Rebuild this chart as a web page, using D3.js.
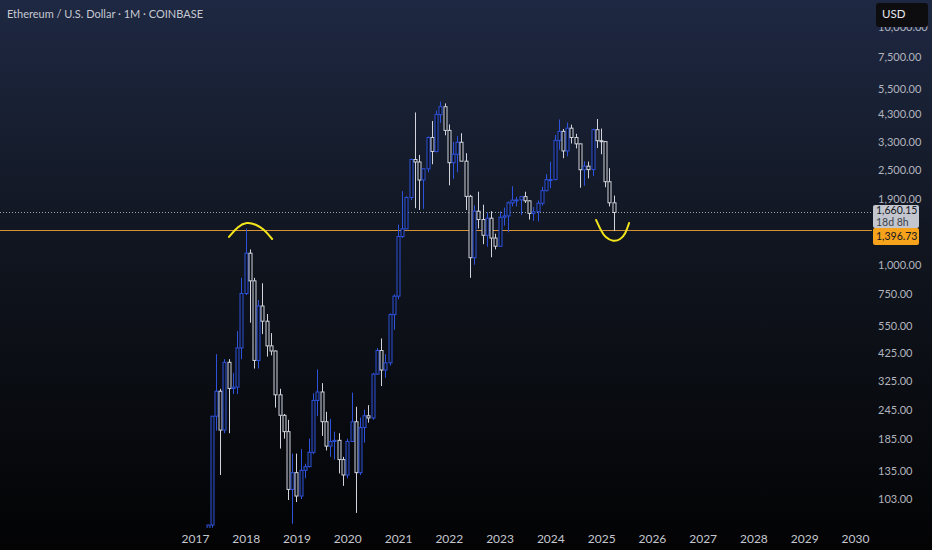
<!DOCTYPE html>
<html>
<head>
<meta charset="utf-8">
<script src="https://cdn.jsdelivr.net/npm/d3@7"></script>
<style>
  html, body { margin: 0; padding: 0; background: #000; }
  svg { display: block; }
</style>
</head>
<body>
<div id="chart"></div>
<script>
// monthly candles, Jan 2017 .. Apr 2025
const startYear = 2017;
const opens = [8.2,10.7,16,50,80,230,293,201,388,301,305,446,
  756,1118,855,395,670,578,455,433,283,232,198,113,
  133,106,136,141,162,268,291,218,172,180,182,151,
  130,180,218,133,206,231,226,346,435,360,386,616,
  737,1314,1416,1918,2775,2709,2274,2535,3434,3000,4290,4630,
  3680,2690,2920,3280,2730,1940,1070,1680,1550,1330,1570,1295,
  1196,1585,1605,1822,1870,1875,1935,1858,1645,1672,1815,2050,
  2282,2283,3340,3645,3015,3760,3435,3230,2513,2600,2515,3705,
  3330,3300,2237,1823];
const highs = [11.5,17,55,80,230,420,300,400,400,350,525,880,
  1420,1160,880,710,835,620,515,435,300,235,222,160,
  160,167,145,185,287,362,317,240,224,198,195,155,
  185,289,252,227,245,256,350,446,489,420,624,750,
  1475,2042,1944,2797,4380,2900,2550,3470,4030,4460,4870,4780,
  3900,3290,3480,3580,2950,1970,1780,2030,1790,1660,1680,1350,
  1680,1740,1850,2140,1930,1930,2030,1870,1750,1865,2130,2410,
  2715,3520,4090,3730,3975,3890,3560,3230,2730,2720,3740,4110,
  3745,3320,2550,1955];
const lows = [7.9,10.3,15.8,42,78,200,130,195,195,285,285,400,
  745,570,365,365,510,410,415,250,168,185,102,81,
  100,103,126,140,159,230,190,165,155,151,132,117,
  126,180,90,130,178,216,222,344,308,334,376,532,
  715,1295,1440,1871,1730,1700,1719,2450,2650,2970,3960,3510,
  2160,2300,2450,2780,1700,880,1000,1420,1220,1190,1075,1160,
  1190,1460,1370,1760,1760,1620,1820,1550,1530,1520,1775,2040,
  2100,2270,3050,2810,2860,3240,3090,2110,2150,2310,2360,3100,
  2920,2120,1760,1385];
const closes = [10.7,16,50,80,230,293,201,388,301,305,446,756,
  1118,855,395,670,578,455,433,283,232,198,113,133,
  106,136,141,162,268,291,218,172,180,182,151,130,
  180,218,133,206,231,226,346,435,360,386,616,737,
  1314,1416,1918,2775,2709,2274,2535,3434,3000,4290,4630,3680,
  2690,2920,3280,2730,1940,1070,1680,1550,1330,1570,1295,1196,
  1585,1605,1822,1870,1875,1935,1858,1645,1672,1815,2050,2282,
  2283,3340,3645,3015,3760,3435,3230,2513,2600,2515,3705,3330,
  3300,2237,1823,1660];

const tickYears = [2017,2018,2019,2020,2021,2022,2023,2024,2025,2026,2027,2028,2029,2030];
const priceTicks = [10000,7500,5500,4300,3300,2500,1900,1000,750,550,425,325,245,185,135,103];

const lastPrice = 1660.15;
const lastCountdown = "18d 8h";
const levelPrice = 1396.73;

// hand drawn arcs: [decimal year, price]
const arcTop = [[2017.67,1309],[2017.85,1455],[2018.02,1515],[2018.2,1480],[2018.36,1410],[2018.52,1283]];
const arcBottom = [[2024.90,1543],[2024.99,1400],[2025.08,1300],[2025.24,1250],[2025.38,1275],[2025.48,1350],[2025.55,1499]];

const W = 932, H = 550;
const PLOT_W = 872, PLOT_H = 528;
const FONT = "Lato, 'Noto Sans', sans-serif";

const candles = opens.map((o, i) => ({
  date: new Date(Date.UTC(startYear, i, 1)),
  open: o, high: highs[i], low: lows[i], close: closes[i]
}));

const x = d3.scaleUtc()
  .domain([new Date(Date.UTC(2017, 0, 1)), new Date(Date.UTC(2030, 0, 1))])
  .range([195, 855]);
const y = d3.scaleLog().domain([103, 7500]).range([499, 57]);

const yearToDate = t => {
  const yr = Math.floor(t);
  const a = Date.UTC(yr, 0, 1), b = Date.UTC(yr + 1, 0, 1);
  return new Date(a + (t - yr) * (b - a));
};

const svg = d3.select("#chart").append("svg")
  .attr("width", W).attr("height", H)
  .attr("font-family", FONT);

const defs = svg.append("defs");
const grad = defs.append("linearGradient").attr("id", "bg")
  .attr("x1", 0).attr("y1", 0).attr("x2", 0).attr("y2", 1);
grad.append("stop").attr("offset", "0%").attr("stop-color", "#1e2842");
grad.append("stop").attr("offset", "45%").attr("stop-color", "#10151f");
grad.append("stop").attr("offset", "100%").attr("stop-color", "#030304");
defs.append("clipPath").attr("id", "plot")
  .append("rect").attr("width", PLOT_W).attr("height", PLOT_H);

svg.append("rect").attr("width", W).attr("height", H).attr("fill", "url(#bg)");

const plot = svg.append("g").attr("clip-path", "url(#plot)");

// price lines
plot.append("line")
  .attr("x1", 0).attr("x2", PLOT_W + 2)
  .attr("y1", Math.round(y(lastPrice)) + 0.5).attr("y2", Math.round(y(lastPrice)) + 0.5)
  .attr("stroke", "#9ea3b0").attr("stroke-dasharray", "1,2");
plot.append("line")
  .attr("x1", 0).attr("x2", PLOT_W + 2)
  .attr("y1", Math.round(y(levelPrice)) + 0.5).attr("y2", Math.round(y(levelPrice)) + 0.5)
  .attr("stroke", "#d8923a").attr("stroke-width", 1);

const UP = "#2d52dc", DOWN = "#d1d4dc";
const colorOf = d => d.close >= d.open ? UP : DOWN;

const cg = plot.append("g");
cg.selectAll("line.wick").data(candles).join("line")
  .attr("class", "wick")
  .attr("x1", d => Math.round(x(d.date)) + 0.5)
  .attr("x2", d => Math.round(x(d.date)) + 0.5)
  .attr("y1", d => y(d.high)).attr("y2", d => y(d.low))
  .attr("stroke", colorOf).attr("stroke-width", 1);
cg.selectAll("rect.body").data(candles).join("rect")
  .attr("class", "body")
  .attr("x", d => Math.round(x(d.date)) - 1)
  .attr("width", 3)
  .attr("y", d => y(Math.max(d.open, d.close)))
  .attr("height", d => Math.max(1, Math.abs(y(d.open) - y(d.close))))
  .attr("fill", "#0c1019")
  .attr("stroke", colorOf).attr("stroke-width", 1);

// yellow annotations
const arcLine = d3.line()
  .x(d => x(yearToDate(d[0])))
  .y(d => y(d[1]))
  .curve(d3.curveBasis);
[arcTop, arcBottom].forEach(pts => {
  plot.append("path").attr("d", arcLine(pts))
    .attr("fill", "none").attr("stroke", "#f2e51c")
    .attr("stroke-width", 2).attr("stroke-linecap", "round");
});

// axes
const yAxis = svg.append("g")
  .attr("transform", "translate(878,0)")
  .call(d3.axisRight(y).tickValues(priceTicks).tickFormat(d3.format(",.2f")).tickSize(0).tickPadding(0));
yAxis.select(".domain").remove();
yAxis.selectAll("text").attr("fill", "#b2b5be").style("font-size", "11px").style("font-family", FONT);

const xAxis = svg.append("g")
  .attr("transform", "translate(0,534)")
  .call(d3.axisBottom(x).tickValues(tickYears.map(v => new Date(Date.UTC(v, 0, 1))))
    .tickFormat(d3.utcFormat("%Y")).tickSize(0).tickPadding(0));
xAxis.select(".domain").remove();
xAxis.selectAll("text").attr("fill", "#c4c7cf").style("font-size", "12px").style("font-family", FONT);

// last price badge
const badge = (sel, txt, tx, ty, color) => sel.append("text")
  .attr("x", tx).attr("y", ty).text(txt)
  .attr("fill", color).style("font-size", "10.5px").style("font-family", FONT);

const yl = Math.round(y(lastPrice));
svg.append("rect").attr("x", 873).attr("y", yl - 7).attr("width", 46).attr("height", 23)
  .attr("rx", 2).attr("fill", "#c3c6ce");
badge(svg, d3.format(",.2f")(lastPrice), 876, yl + 2, "#131722");
badge(svg, lastCountdown, 876, yl + 14, "#3a3e4a");

const yo = Math.round(y(levelPrice));
svg.append("rect").attr("x", 873).attr("y", yo - 2).attr("width", 46).attr("height", 17)
  .attr("rx", 2).attr("fill", "#f7a21b");
badge(svg, d3.format(",.2f")(levelPrice), 876, yo + 10, "#131722");

// currency badge (partly covers the top tick label, as in the reference)
svg.append("rect").attr("x", 876).attr("y", 3).attr("width", 52).attr("height", 24)
  .attr("rx", 3).attr("fill", "#0d0d0f");
svg.append("text").attr("x", 882).attr("y", 18).text("USD")
  .attr("fill", "#e8e9ec").style("font-size", "11.5px").style("font-family", FONT);

// title
svg.append("text").attr("x", 7).attr("y", 18)
  .text("Ethereum / U.S. Dollar · 1M · COINBASE")
  .attr("fill", "#c6c9d1").style("font-size", "11px").style("font-family", FONT);
</script>
</body>
</html>
